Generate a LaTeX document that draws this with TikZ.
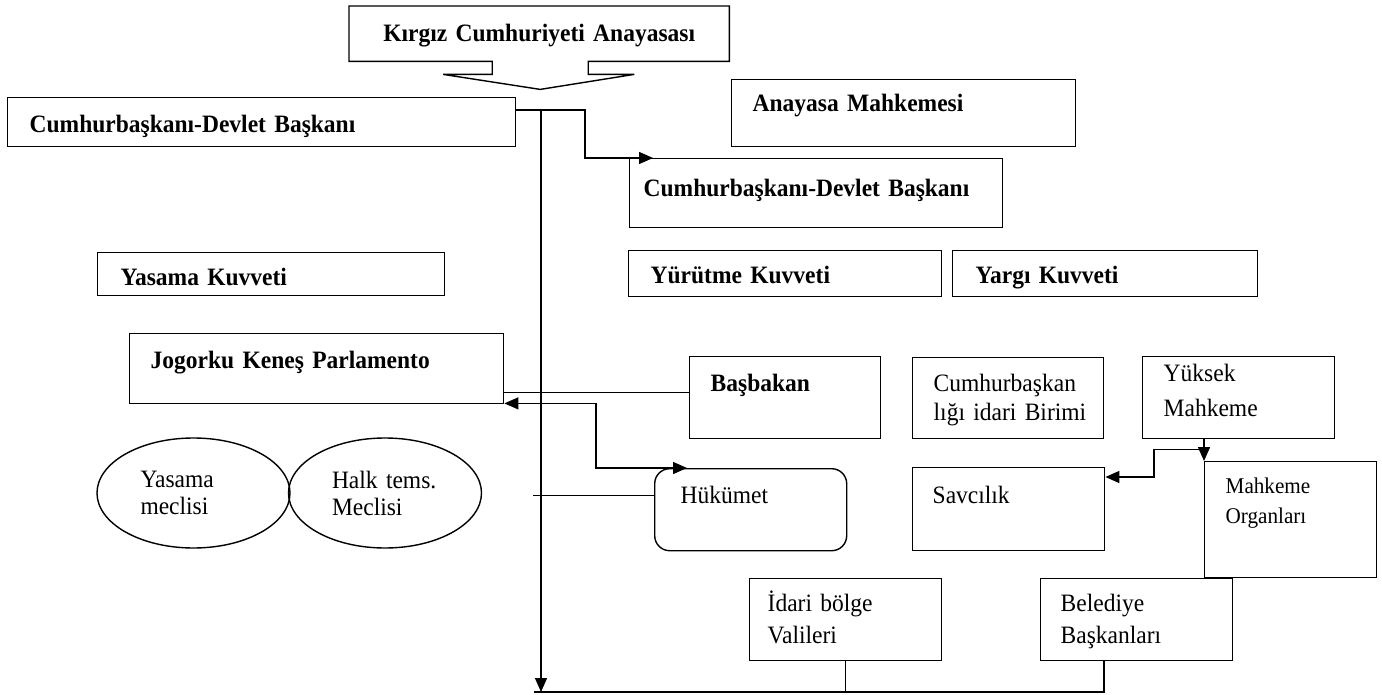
\documentclass[tikz,border=0pt]{standalone}
\usepackage{fontspec}
\setmainfont{Liberation Serif}[FakeStretch=0.94]
\usepackage{tikz}
\usetikzlibrary{arrows.meta,calc,shapes.geometric}

\begin{document}
\begin{tikzpicture}[
    x=1pt, y=-1pt,
    >={Triangle[length=14pt,width=12pt]},
    line width=1.4pt,
    font=\fontsize{25}{29}\selectfont,
    box/.style={
		rectangle,
		draw=black,
		anchor=north west,
		inner ysep=0pt,
		align=left
	},
    oval/.style={
		ellipse,
		draw=black,
		minimum width=193pt,
		minimum height=110pt,
		inner sep=0pt,
		text width=106pt,
		align=left
	}
  ]
  \useasboundingbox (0,0) rectangle (1382,695);

    % constitution on top, its outline is drawn by hand below
  \node [box, draw=none, inner xsep=0pt, text width=379pt, align=center,
         text height=35pt, text depth=19pt] (const) at (349,6)
 {\textbf{Kırgız Cumhuriyeti Anayasası}};
  \draw (const.south west) -- ($(const.south)+(-47,0)$) -- ++(0,13) -- ++(-49,0)
     -- ($(const.south)+(1,28)$) -- ($(const.south)+(95,13)$) -- ++(-46,0)
     -- ($(const.south)+(49,0)$) -- (const.south east) |- (const.north west) -- cycle;

  \node [box, inner xsep=22pt, text width=464pt, text height=35pt, text depth=14pt] (cbleft) at (7,97)
 {\textbf{Cumhurbaşkanı-Devlet Başkanı}};

  \node [box, inner xsep=21pt, text width=302pt, text height=32pt, text depth=35pt] (court) at (731,79)
 {\textbf{Anayasa Mahkemesi}};

  \node [box, inner xsep=14pt, text width=345pt, text height=38pt, text depth=31pt] (cbright) at (629,158)
 {\textbf{Cumhurbaşkanı-Devlet Başkanı}};

    % the three powers
  \node [box, inner xsep=23pt, text width=301pt, text height=33pt, text depth=10pt] (legis) at (97,252)
 {\textbf{Yasama Kuvveti}};
  \node [box, inner xsep=22pt, text width=269pt, text height=33pt, text depth=13pt] (exec) at (628,250)
 {\textbf{Yürütme Kuvveti}};
  \node [box, inner xsep=23pt, text width=259pt, text height=33pt, text depth=13pt] (judic) at (952,250)
 {\textbf{Yargı Kuvveti}};

  \node [box, inner xsep=21pt, text width=332pt, text height=35pt, text depth=35pt] (parl) at (129,333)
 {\textbf{Jogorku Keneş Parlamento}};

  \node [oval] (senate) at (193.5,493) {Yasama\\[-2pt]meclisi};
  \node [oval] (people) at (385,493) {Halk tems.\\[-2pt]Meclisi};

  \node [box, inner xsep=21pt, text width=149pt, text height=35pt, text depth=47pt] (pm) at (689,356)
 {\textbf{Başbakan}};
  \node [box, inner xsep=21pt, text width=149pt, text height=34pt, text depth=47pt] (admin) at (912,357)
 {Cumhurbaşkan\\\mbox{lığı idari Birimi}};
  \node [box, inner xsep=21pt, text width=150pt, text height=25pt, text depth=57pt] (supreme) at (1142,356)
 {Yüksek\\[6pt]Mahkeme};

  \node [box, rounded corners=15pt, inner xsep=26pt, text width=140pt, text height=35pt, text depth=47pt] (gov) at (654,468)
 {Hükümet};
  \node [box, inner xsep=20pt, text width=152pt, text height=36pt, text depth=47pt] (pros) at (912,467)
 {Savcılık};
  \node [box, font=\fontsize{22.5}{24}\selectfont, inner xsep=21pt, text width=130pt, text height=32pt, text depth=84pt] (courts) at (1204,461)
 {Mahkeme\\[6pt]Organları};

  \node [box, inner xsep=18pt, text width=156pt, text height=33pt, text depth=49pt] (prov) at (749,578)
 {İdari bölge\\[3pt]Valileri};
  \node [box, inner xsep=20pt, text width=152pt, text height=33pt, text depth=49pt] (mayor) at (1040,578)
 {Belediye\\[3pt]Başkanları};

    % connectors
  \coordinate (trunk) at (541,110);
  \coordinate (trunkend) at (541,692);
  \coordinate (pmin) at ($(pm.west)+(0,-5)$);
  \coordinate (split) at ($(supreme.south west)+(62,10)$);

  \draw [->] (cbleft.east |- trunk) -| ($(cbright.north west)+(-44,0)$) -- ($(cbright.north west)+(24,0)$);
  \draw [->] (trunk) -- (trunkend);
  \draw (pmin) -- (pmin -| parl.east);
  \draw [<->] ($(parl.south east)+(0,-1)$) -| ($(gov.north west)+(-58,0)$) -- ($(gov.north west)+(33,0)$);
  \draw ($(gov.west)+(0,-14)$) -- ($(gov.west -| trunk)+(-8,-14)$);
  \draw [->] (split |- supreme.south) -- (courts.north west);
  \draw [->] (split) -- ++(-50,0) |- ($(pros.north east)+(0,10)$);
  \draw ($(trunkend)+(-7,0)$) -| ($(mayor.south west)+(64,0)$);
  \draw (prov.south) -- (prov.south |- trunkend);

\end{tikzpicture}
\end{document}
